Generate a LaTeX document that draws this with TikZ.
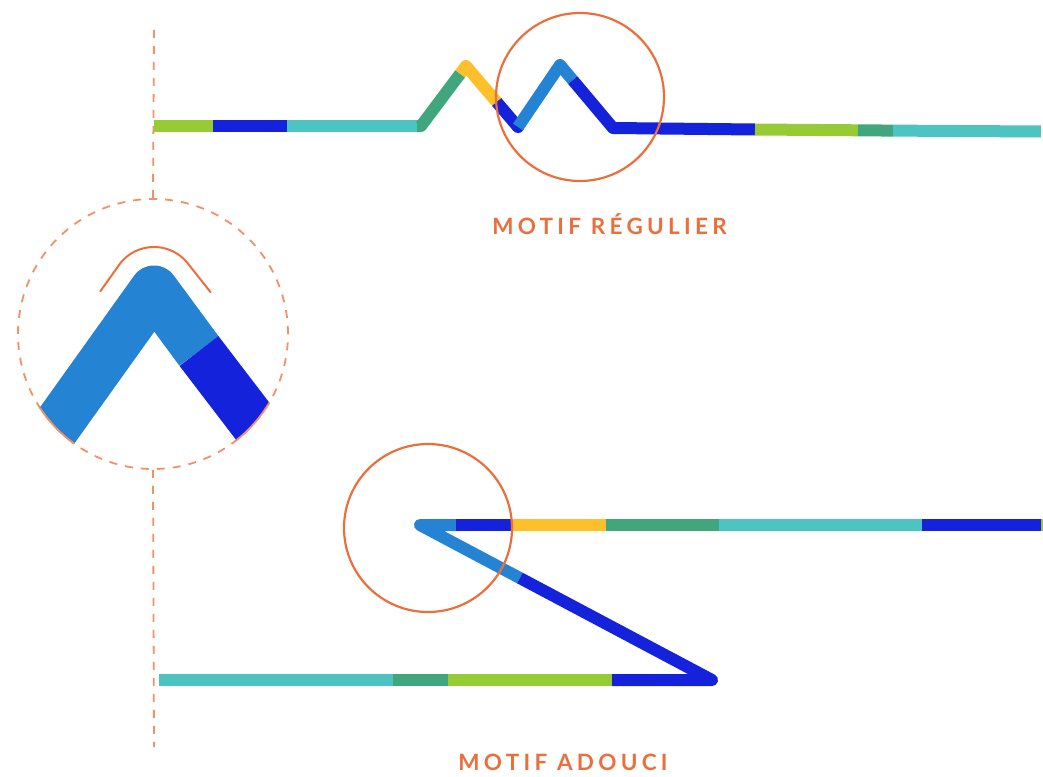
\documentclass[tikz,border=0pt]{standalone}
\usepackage{fontspec}
\newfontfamily\labfont[LetterSpace=19]{Lato}
\usetikzlibrary{calc}
\definecolor{cGreen}{HTML}{97CB34}
\definecolor{cBlue}{HTML}{1522DC}
\definecolor{cTeal}{HTML}{4DC4C2}
\definecolor{cDark}{HTML}{41A67E}
\definecolor{cYellow}{HTML}{FEC02A}
\definecolor{cLight}{HTML}{2483D2}
\definecolor{cOrange}{HTML}{EB6F3C}
\definecolor{cDash}{HTML}{F29068}
\begin{document}
\begin{tikzpicture}[x=1pt,y=-1pt,
  seg/.style={line width=12pt, line join=round},
  band/.style={line width=49pt, line join=round},
  ring/.style={circle, draw=cOrange, line width=2.2pt, inner sep=0pt, minimum size=168pt},
  dashline/.style={draw=cDash, line width=1.8pt, dash pattern=on 8pt off 8pt},
  lab/.style={text=cOrange, font=\labfont\bfseries\fontsize{22.5}{22.5}\selectfont, inner sep=0pt, anchor=base}]
\useasboundingbox (0,0) rectangle (1043,776);

% ---------- top: regular pattern ----------
\coordinate (A0) at (154,126);
\coordinate (A1) at (213,126);
\coordinate (A2) at (287,126);
\coordinate (A3) at (417,126);
\coordinate (K1) at (421,126);
\coordinate (P1) at (466,66);
\coordinate (V1) at (518,127);
\coordinate (P2) at (560,65);
\coordinate (K2) at (613,128);
\coordinate (B1) at (755,129.5);
\coordinate (B2) at (858,130.3);
\coordinate (B3) at (893,130.6);
\coordinate (B4) at (1041,131.5);
\coordinate (G1) at ($(K1)!0.87!(P1)$);
\coordinate (Y1) at ($(P1)!0.59!(V1)$);
\coordinate (L1) at ($(P2)!0.24!(K2)$);

\draw[seg,cGreen] (A0)--(A1);
\draw[seg,cBlue] (A1)--(A2);
\draw[seg,cTeal] (A2)--(A3);
\draw[seg,cDark] (A3)--(K1)--(G1);
\draw[seg,cYellow] (G1)--(P1)--(Y1);
\draw[seg,cBlue] (Y1)--(V1);
\fill[cBlue] (V1) circle[radius=6];
\draw[seg,cLight] (V1)--(P2)--(L1);
\draw[seg,cBlue] (L1)--(K2)--(B1);
\draw[seg,cGreen] (B1)--(B2);
\draw[seg,cDark] (B2)--(B3);
\draw[seg,cTeal] (B3)--(B4);

% ---------- bottom: softened pattern ----------
\coordinate (L) at (420,525);
\coordinate (T1) at (456,525);
\coordinate (T2) at (511,525);
\coordinate (T3) at (606,525);
\coordinate (T4) at (719,525);
\coordinate (T5) at (922,525);
\coordinate (T6) at (1041,525);
\coordinate (T7) at (1043,525);
\coordinate (R) at (712,680);
\coordinate (D1) at ($(L)!0.342!(R)$);
\coordinate (S1) at (612,680);
\coordinate (S2) at (448,680);
\coordinate (S3) at (393,680);
\coordinate (S4) at (159,680);

\draw[seg,cLight] (T1)--(L)--(D1);
\draw[seg,cBlue] (D1)--(R)--(S1);
\draw[seg,cBlue] (T1)--(T2);
\draw[seg,cYellow] (T2)--(T3);
\draw[seg,cDark] (T3)--(T4);
\draw[seg,cTeal] (T4)--(T5);
\draw[seg,cBlue] (T5)--(T6);
\draw[seg,cGreen] (T6)--(T7);
\draw[seg,cGreen] (S1)--(S2);
\draw[seg,cDark] (S2)--(S3);
\draw[seg,cTeal] (S3)--(S4);

% ---------- magnifier ----------
\node[circle, dashline, inner sep=0pt, minimum size=270pt] (Z) at (153,334) {};
\coordinate (VT) at (154,30);
\coordinate (VB) at (154,747);
\draw[dashline] (VT)--(Z.north);
\draw[dashline] (Z.south)--(VB);

\coordinate (C) at (154,290);
\coordinate (E1) at (26,469);
\coordinate (M) at (199,351);
\coordinate (E2) at (290,470);
\begin{scope}
  \clip (153,334) circle[radius=135];
  \draw[band,cLight] (E1)--(C)--(M);
  \draw[band,cBlue] (M)--(E2);
\end{scope}
\draw[cDash, line width=1.8pt] plot[domain=125.6:146.8, samples=20] ({153+135*cos(\x)},{334+135*sin(\x)});
\draw[cDash, line width=1.8pt] plot[domain=30.6:51.7, samples=20] ({153+135*cos(\x)},{334+135*sin(\x)});

\coordinate (OL) at (100.4,291.2);
\coordinate (OR) at (210.7,292.3);
\draw[cOrange, line width=2pt, line cap=round] (OL) -- plot[domain=-144.6:-38.3, samples=40] ({154+43*cos(\x)},{290+43*sin(\x)}) -- (OR);

% ---------- rings ----------
\node[ring] (O1) at (580,97) {};
\node[ring] (O2) at (428,528) {};

% ---------- labels ----------
\node[lab] (t1) at (609.5,234) {MOTIF RÉGULIER};
\node[lab] (t2) at (563,770.5) {MOTIF ADOUCI};
\end{tikzpicture}
\end{document}
